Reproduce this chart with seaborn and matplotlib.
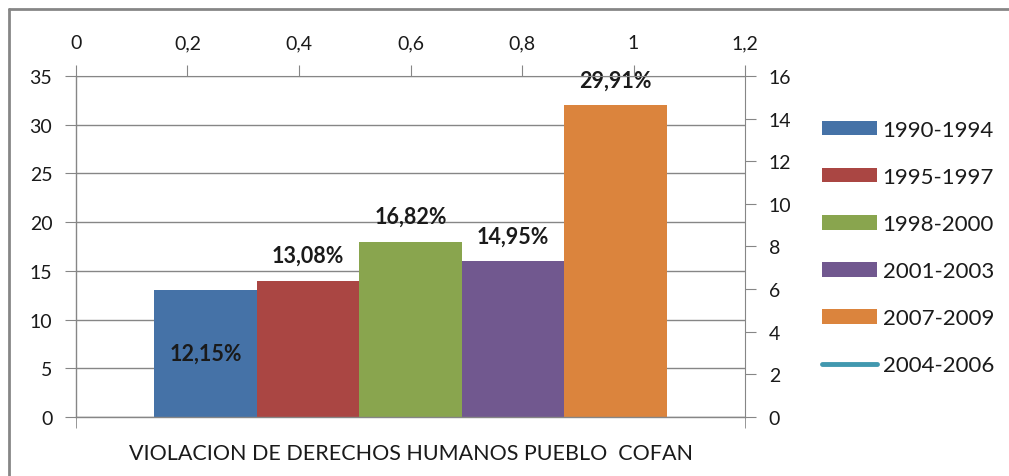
import pandas as pd
import numpy as np
import matplotlib
matplotlib.use("Agg")
import matplotlib.pyplot as plt
from matplotlib.patches import Patch
from matplotlib.lines import Line2D
import seaborn as sns

# data
categoria = "VIOLACION DE DERECHOS HUMANOS PUEBLO  COFAN"
periodos = ["1990-1994", "1995-1997", "1998-2000", "2001-2003", "2007-2009"]
valores = [13, 14, 18, 16, 32]
etiquetas = ["12,15%", "13,08%", "16,82%", "14,95%", "29,91%"]
colores = ["#4572A7", "#AA4643", "#89A54E", "#71588F", "#DB843D"]
linea_periodo = "2004-2006"
linea_color = "#4198AF"

left_ticks = list(range(0, 36, 5))
right_ticks = list(range(0, 17, 2))
top_ticks = [0, 0.2, 0.4, 0.6, 0.8, 1.0, 1.2]
top_labels = ["0", "0,2", "0,4", "0,6", "0,8", "1", "1,2"]

sns.set_style("white")
plt.rcParams["font.family"] = ["Lato", "DejaVu Sans"]
grey = "#868686"
txt = "#1a1a1a"

df = pd.DataFrame({"categoria": [categoria] * len(periodos),
                   "periodo": periodos,
                   "valor": valores})

fig = plt.figure(figsize=(10.09, 4.77), dpi=100)
ax = fig.add_axes([0.0753, 0.1237, 0.6631, 0.7149])

sns.barplot(data=df, x="categoria", y="valor", hue="periodo",
            hue_order=periodos, palette=colores, width=0.766, gap=0,
            saturation=1, linewidth=0, legend=False, ax=ax)

ax.set_xlim(-0.5, 0.5)
ax.set_ylim(0, 35)
ax.set_yticks(left_ticks)
ax.set_axisbelow(True)
ax.yaxis.grid(True, color=grey, lw=1)
ax.set_xlabel("")
ax.set_ylabel("")
for side in ["left", "bottom", "right", "top"]:
    ax.spines[side].set_color(grey)
    ax.spines[side].set_linewidth(1)
ax.spines["top"].set_visible(False)
ax.spines["right"].set_visible(False)
ax.tick_params(axis="y", left=True, length=8, color=grey, pad=9,
               labelsize=14, labelcolor=txt)
ax.set_xticks([0])
ax.set_xticklabels([categoria])
ax.set_xticks([-0.5, 0.5], minor=True)
ax.tick_params(axis="x", which="major", length=0, pad=19, labelsize=15.5,
               labelcolor=txt)
ax.tick_params(axis="x", which="minor", bottom=True, length=8, color=grey)

# value labels: first one centered inside, rest above bar
bars = [p for p in ax.patches if p.get_height() > 0][:len(valores)]
for i, (bar, lab) in enumerate(zip(bars, etiquetas)):
    cx = bar.get_x() + bar.get_width() / 2
    if i == 0:
        ax.text(cx, bar.get_height() / 2, lab, ha="center", va="center",
                fontsize=15.5, fontweight="bold", color=txt)
    else:
        ax.annotate(lab, (cx, bar.get_height()), xytext=(0, 18),
                    textcoords="offset points", ha="center", va="center",
                    fontsize=15.5, fontweight="bold", color=txt)

# secondary right axis
ax2 = ax.twinx()
ax2.set_ylim(0, 16)
ax2.set_yticks(right_ticks)
ax2.plot([], [], color=linea_color, lw=3)
ax2.tick_params(axis="y", right=True, length=8, color=grey, pad=9,
                labelsize=14, labelcolor=txt)
for side in ["left", "bottom", "top"]:
    ax2.spines[side].set_visible(False)
ax2.spines["right"].set_color(grey)

# secondary top axis
ax3 = ax.twiny()
ax3.set_xlim(0, 1.2)
ax3.set_xticks(top_ticks)
ax3.set_xticklabels(top_labels)
ax3.tick_params(axis="x", top=True, length=8, color=grey, pad=10,
                labelsize=14, labelcolor=txt)
for side in ["left", "bottom", "right"]:
    ax3.spines[side].set_visible(False)
ax3.spines["top"].set_color(grey)

handles = [Patch(facecolor=c, edgecolor="none") for c in colores]
handles.append(Line2D([], [], color=linea_color, lw=3.5, solid_capstyle="round"))
labels = periodos + [linea_periodo]
fig.legend(handles, labels, loc="center left", bbox_to_anchor=(0.795, 0.479),
           frameon=False, fontsize=16, handlelength=2.45, handleheight=0.65,
           handletextpad=0.27, labelspacing=1.22, labelcolor=txt)

# outer chart border (only top and left visible in the crop)
fig.add_artist(Line2D([0.009, 0.009], [0.0, 0.979], color=grey, lw=2,
                      transform=fig.transFigure))
fig.add_artist(Line2D([0.009, 1.0], [0.979, 0.979], color=grey, lw=2,
                      transform=fig.transFigure))

fig.savefig("out.png", dpi=100, facecolor="white")
